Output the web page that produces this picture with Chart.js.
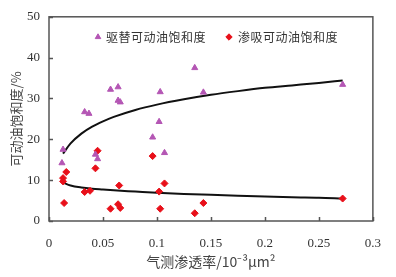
<!DOCTYPE html>
<html>
<head>
<meta charset="utf-8">
<script src="https://cdn.jsdelivr.net/npm/chart.js@4.4.0/dist/chart.umd.min.js"></script>
<style>
    html, body { margin: 0; padding: 0; background: #fff; }
</style>
</head>
<body>
<canvas id="satChart" width="396" height="277"></canvas>
<script>
// 驱替可动油饱和度 (triangles)
var drainX = [0.013, 0.012, 0.033, 0.037, 0.043, 0.045, 0.057, 0.064, 0.064, 0.066, 0.096, 0.102, 0.103, 0.107, 0.135, 0.143, 0.272];
var drainY = [17.5, 14.2, 26.7, 26.3, 16.3, 15.2, 32.2, 32.8, 29.5, 29.1, 20.5, 24.3, 31.6, 16.7, 37.5, 31.5, 33.4];

// 渗吸可动油饱和度 (diamonds)
var imbX = [0.014, 0.013, 0.013, 0.016, 0.033, 0.038, 0.043, 0.045, 0.057, 0.064, 0.065, 0.066, 0.096, 0.102, 0.103, 0.107, 0.135, 0.143, 0.272];
var imbY = [4.4, 10.5, 9.7, 12.0, 7.1, 7.4, 12.9, 17.2, 3.0, 4.1, 8.7, 3.2, 15.9, 7.2, 3.0, 9.2, 1.9, 4.4, 5.5];

// trend curves
var curveX = [0.013, 0.02, 0.03, 0.04, 0.05, 0.06, 0.08, 0.1, 0.125, 0.15, 0.175, 0.2, 0.225, 0.25, 0.272];
var upperY = [16.5, 19.0, 21.4, 23.1, 24.4, 25.5, 27.2, 28.5, 29.8, 30.9, 31.8, 32.6, 33.2, 33.8, 34.4];
var lowerY = [9.4, 8.7, 8.2, 7.9, 7.7, 7.5, 7.2, 6.9, 6.6, 6.4, 6.2, 6.0, 5.8, 5.7, 5.5];

var xTickLabels = ["0", "0.05", "0.1", "0.15", "0.2", "0.25", "0.3"];
var yTickLabels = ["0", "10", "20", "30", "40", "50"];

function toPoints(xs, ys) {
    var pts = [];
    for (var i = 0; i < xs.length; i++) {
        pts.push({ x: xs[i], y: ys[i] });
    }
    return pts;
}

var purple = "#b456b4";
var red = "#e8101a";
var axisColor = "#555";
var cjk = "'Noto Sans CJK SC', sans-serif";
var serif = "'Liberation Serif', 'DejaVu Serif', serif";

// box around the plot and inward tick marks
var framePlugin = {
    id: 'frame',
    afterDraw: function (chart) {
        var ctx = chart.ctx;
        var a = chart.chartArea;
        var xs = chart.scales.x, ys = chart.scales.y;
        ctx.save();
        ctx.strokeStyle = axisColor;
        ctx.lineWidth = 1.5;
        ctx.strokeRect(a.left, a.top, a.right - a.left, a.bottom - a.top);
        ctx.beginPath();
        xs.ticks.forEach(function (t) {
            var px = Math.round(xs.getPixelForValue(t.value)) + 0.5;
            ctx.moveTo(px, a.bottom);
            ctx.lineTo(px, a.bottom - 4);
        });
        ys.ticks.forEach(function (t) {
            var py = Math.round(ys.getPixelForValue(t.value)) + 0.5;
            ctx.moveTo(a.left, py);
            ctx.lineTo(a.left + 4, py);
        });
        ctx.stroke();
        ctx.restore();
    }
};

// legend inside the plot area
var legendPlugin = {
    id: 'innerLegend',
    afterDraw: function (chart) {
        var ctx = chart.ctx;
        var items = [
            { ds: chart.data.datasets[0], mx: 98, tx: 106 },
            { ds: chart.data.datasets[1], mx: 229, tx: 238 }
        ];
        var y = 37;
        ctx.save();
        items.forEach(function (it) {
            ctx.fillStyle = it.ds.backgroundColor;
            ctx.strokeStyle = it.ds.borderColor;
            Chart.helpers.drawPoint(ctx, {
                pointStyle: it.ds.pointStyle,
                radius: 3.2,
                rotation: 0,
                borderWidth: 1
            }, it.mx, y);
            ctx.fillStyle = "#333";
            ctx.font = "12px " + cjk;
            ctx.textBaseline = "middle";
            ctx.textAlign = "left";
            ctx.letterSpacing = "0.5px";
            ctx.fillText(it.ds.label, it.tx, y);
        });
        ctx.restore();
    }
};

var satChart = new Chart("satChart", {
    type: "scatter",
    data: {
        datasets: [{
            label: "驱替可动油饱和度",
            data: toPoints(drainX, drainY),
            pointStyle: "triangle",
            pointRadius: 3.5,
            backgroundColor: purple,
            borderColor: purple,
            borderWidth: 1
        },
        {
            label: "渗吸可动油饱和度",
            data: toPoints(imbX, imbY),
            pointStyle: "rectRot",
            pointRadius: 3.5,
            backgroundColor: red,
            borderColor: red,
            borderWidth: 1
        },
        {
            label: "upper",
            data: toPoints(curveX, upperY),
            showLine: true,
            pointRadius: 0,
            borderColor: "#111",
            borderWidth: 2,
            cubicInterpolationMode: "monotone"
        },
        {
            label: "lower",
            data: toPoints(curveX, lowerY),
            showLine: true,
            pointRadius: 0,
            borderColor: "#111",
            borderWidth: 2,
            cubicInterpolationMode: "monotone"
        }]
    },
    options: {
        responsive: false,
        animation: false,
        devicePixelRatio: 1,
        layout: {
            padding: { top: 15, right: 23, left: 0, bottom: 0 }
        },
        plugins: {
            legend: { display: false },
            tooltip: { enabled: false }
        },
        scales: {
            x: {
                type: "linear",
                min: 0,
                max: 0.3,
                grid: { display: false, drawTicks: false },
                border: { display: false },
                ticks: {
                    stepSize: 0.05,
                    padding: 15,
                    color: "#333",
                    maxRotation: 0,
                    font: { size: 13, family: serif },
                    callback: function (v, i) { return xTickLabels[i]; }
                },
                title: {
                    display: true,
                    text: "气测渗透率/10⁻³μm²",
                    color: "#444",
                    padding: { top: 0, bottom: 7 },
                    font: { size: 14, family: cjk }
                },
                afterFit: function (scale) { scale.height = 56; }
            },
            y: {
                min: 0,
                max: 50,
                grid: { display: false, drawTicks: false },
                border: { display: false },
                ticks: {
                    stepSize: 10,
                    padding: 9,
                    color: "#333",
                    font: { size: 13, family: serif },
                    callback: function (v, i) { return yTickLabels[i]; }
                },
                title: {
                    display: true,
                    text: "可动油饱和度/%",
                    color: "#444",
                    padding: { top: 8, bottom: 0 },
                    font: { size: 13, family: cjk }
                },
                afterFit: function (scale) { scale.width = 49; }
            }
        }
    },
    plugins: [framePlugin, legendPlugin]
});
</script>
</body>
</html>
